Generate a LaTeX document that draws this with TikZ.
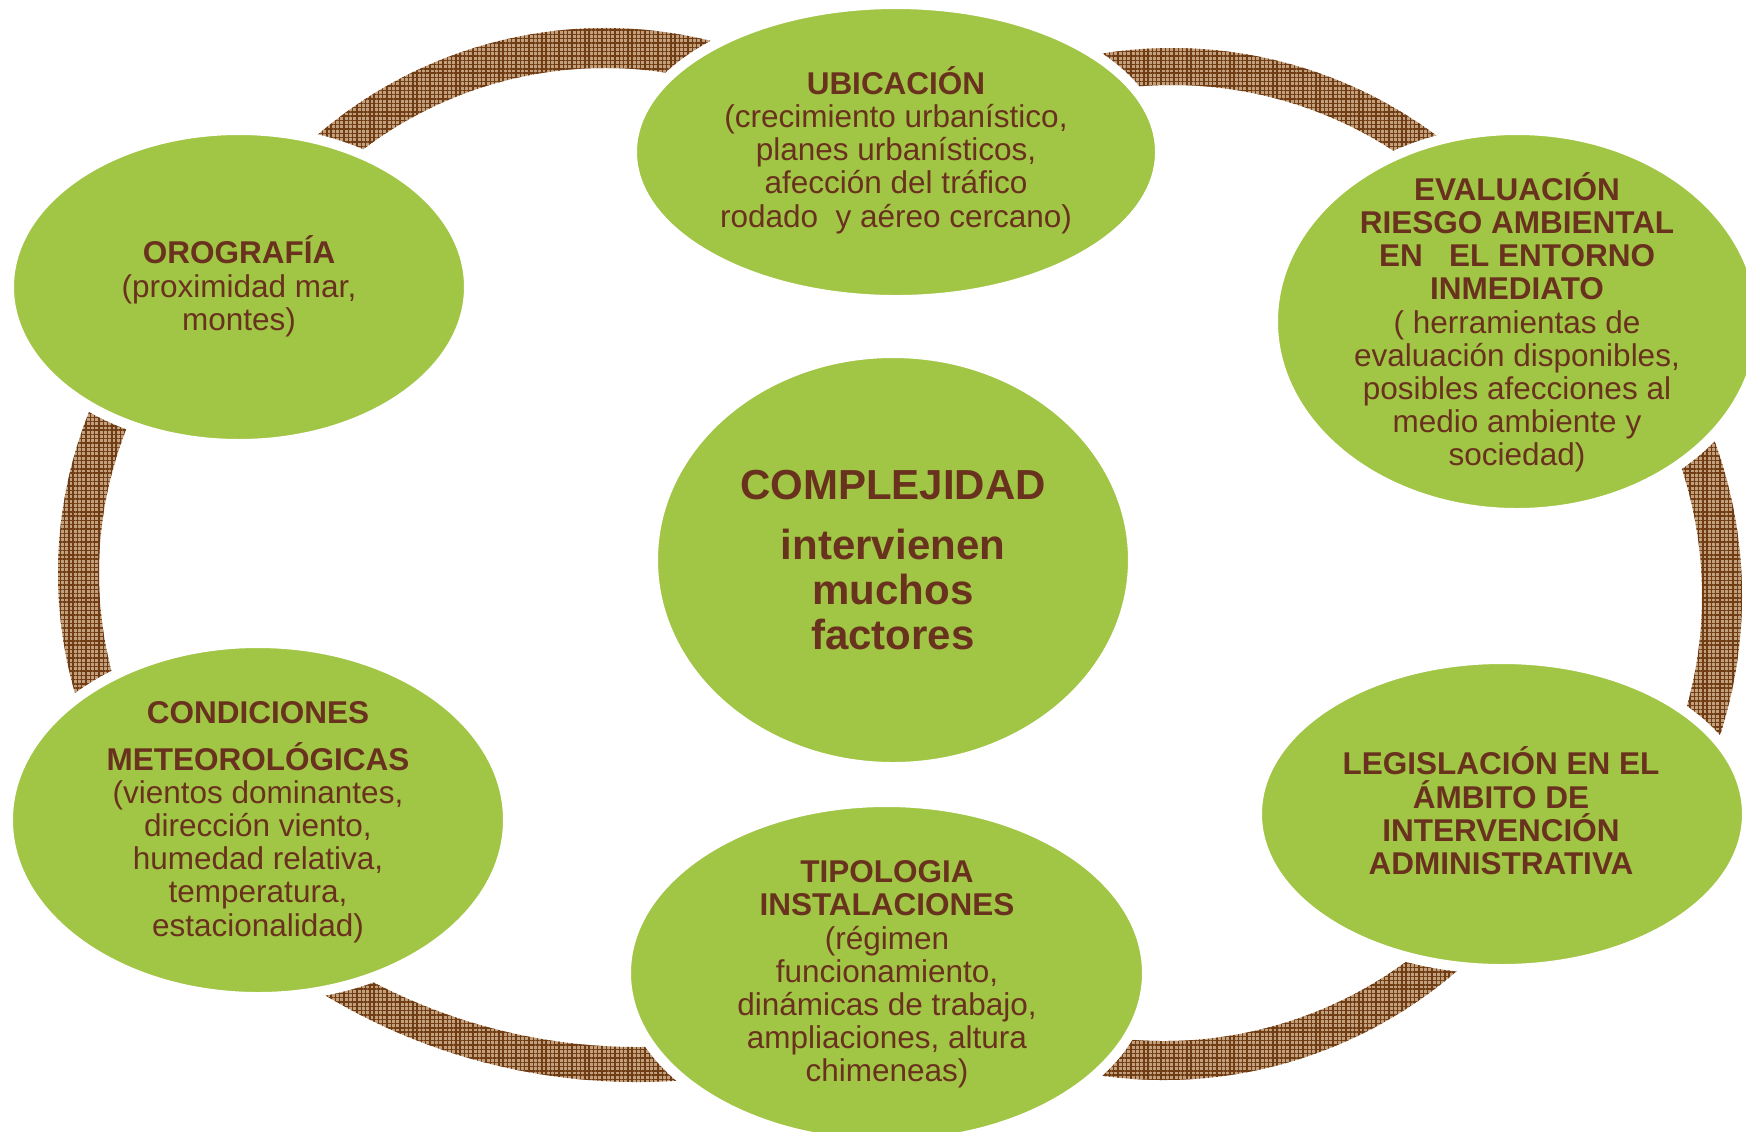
\documentclass[tikz,border=0pt]{standalone}
\usepackage{fontspec}
\setmainfont{Liberation Sans}
\usetikzlibrary{shapes.geometric,patterns.meta}
\definecolor{leaf}{RGB}{161,197,69}
\definecolor{bark}{RGB}{105,50,30}
\definecolor{ringlight}{RGB}{194,160,125}
\definecolor{ringdark}{RGB}{112,60,20}
\newcommand{\tst}{\rule[-0.34em]{0pt}{1em}}
% \bandarc{cx}{cy}{inner r}{outer r}{start angle}{end angle}
\newcommand{\bandarc}[6]{%
  \begin{scope}[shift={(#1,#2)}]
    \path[arcband] (#5:#4) arc[start angle=#5, end angle=#6, radius=#4]
      -- (#6:#3) arc[start angle=#6, end angle=#5, radius=#3] -- cycle;
  \end{scope}}
\begin{document}
\begin{tikzpicture}[x=0.5pt, y=-0.5pt,
  arcband/.style={fill=ringlight, postaction={pattern={Hatch[angle=0,distance=2.15pt,line width=0.7pt]}, pattern color=ringdark}},
  blob/.style={ellipse, fill=leaf, draw=white, line width=5pt, inner sep=0pt},
  body/.style={align=center, inner sep=0pt, text=bark,
    font={\fontsize{15.75pt}{16.6pt}\selectfont\lineskiplimit=-\maxdimen}},
  core/.style={align=center, inner sep=0pt, text=bark,
    font={\fontsize{21pt}{22.5pt}\selectfont\bfseries\lineskiplimit=-\maxdimen}}]
\useasboundingbox (0,0) rectangle (1746,1131);
% ring segments
\bandarc{605}{468}{400}{440}{-140}{-70}
\bandarc{1172}{491}{406}{443}{-105}{-45}
\bandarc{1291}{596}{411}{451}{-28}{25}
\bandarc{1164}{632}{409}{448}{42}{105}
\bandarc{637}{478}{569}{604}{80}{127}
\bandarc{491}{573}{392}{433}{155}{212}
% ellipses
\node[blob, minimum width=264pt, minimum height=148pt] (ubi) at (896,152) {};
\node[blob, minimum width=230pt, minimum height=157pt] (oro) at (239,287) {};
\node[blob, minimum width=244pt, minimum height=191.5pt] (eval) at (1517,321.5) {};
\node[blob, minimum width=240pt, minimum height=207pt] (core) at (893,560) {};
\node[blob, minimum width=250pt, minimum height=177pt] (cond) at (258,820) {};
\node[blob, minimum width=260.5pt, minimum height=171pt] (tipo) at (886.5,973) {};
\node[blob, minimum width=245pt, minimum height=155pt] (legis) at (1502,814) {};
% texts
\node[body] (ubit) at (896,152) {\tst\textbf{UBICACIÓN}\\(crecimiento urbanístico,\\planes urbanísticos,\\afección del tráfico\\rodado\ \ y aéreo cercano)\tst};
\node[body] (orot) at (239,288.4) {\tst\textbf{OROGRAFÍA}\\(proximidad mar,\\montes)\tst};
\node[body] (evalt) at (1517,324.4) {\tst\textbf{EVALUACIÓN}\\\textbf{RIESGO AMBIENTAL}\\\textbf{EN\ \ \ EL ENTORNO}\\\textbf{INMEDIATO}\\( herramientas de\\evaluación disponibles,\\posibles afecciones al\\medio ambiente y\\sociedad)\tst};
\node[core] (coret) at (893,567) {\tst COMPLEJIDAD\\[7.5pt]intervienen\\muchos\\factores\tst};
\node[body] (condt) at (258,824) {\tst\textbf{CONDICIONES}\\[6.9pt]\textbf{METEOROLÓGICAS}\\(vientos dominantes,\\dirección viento,\\humedad relativa,\\temperatura,\\estacionalidad)\tst};
\node[body] (tipot) at (887,976.6) {\tst\textbf{TIPOLOGIA}\\\textbf{INSTALACIONES}\\(régimen\\funcionamiento,\\dinámicas de trabajo,\\ampliaciones, altura\\chimeneas)\tst};
\node[body] (legist) at (1501,816) {\tst\textbf{LEGISLACIÓN EN EL}\\\textbf{ÁMBITO DE}\\\textbf{INTERVENCIÓN}\\\textbf{ADMINISTRATIVA}\tst};
\end{tikzpicture}
\end{document}
